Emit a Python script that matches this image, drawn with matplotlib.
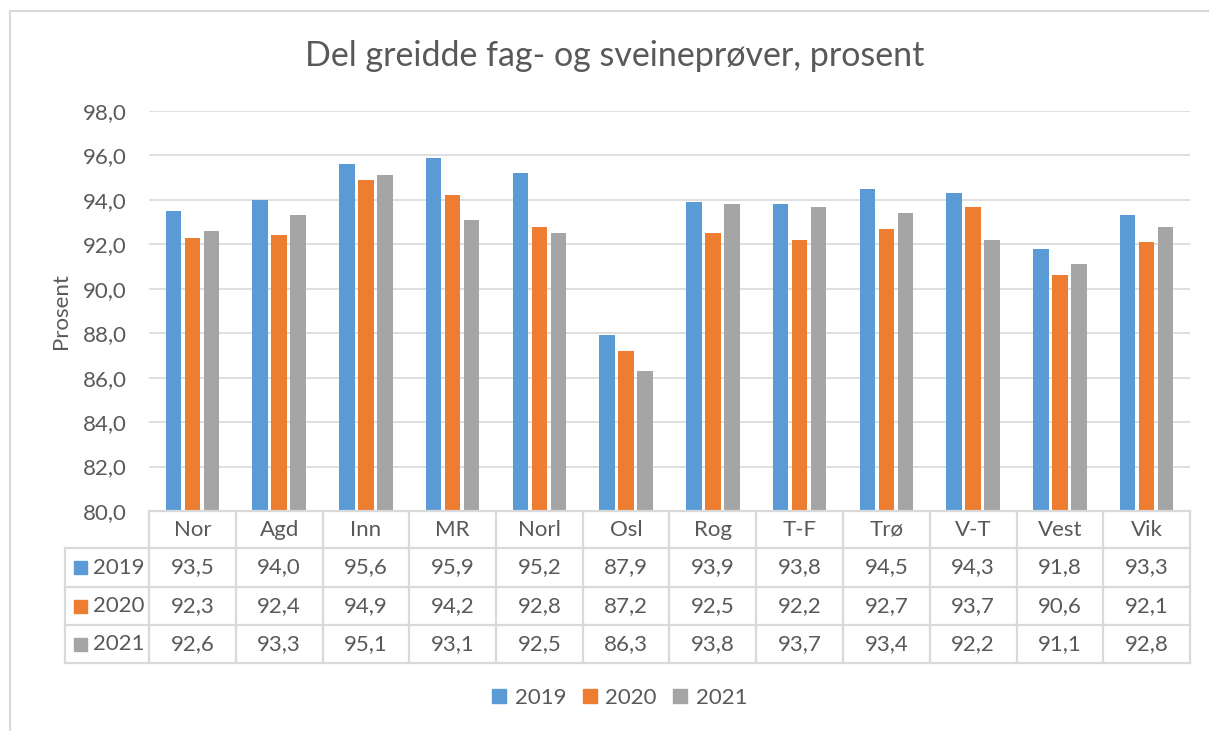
import matplotlib
matplotlib.use("Agg")
import matplotlib.pyplot as plt
from matplotlib.lines import Line2D
import numpy as np

# data
categories = ["Nor", "Agd", "Inn", "MR", "Norl", "Osl", "Rog", "T-F", "Trø", "V-T", "Vest", "Vik"]
years = ["2019", "2020", "2021"]
v2019 = [93.5, 94.0, 95.6, 95.9, 95.2, 87.9, 93.9, 93.8, 94.5, 94.3, 91.8, 93.3]
v2020 = [92.3, 92.4, 94.9, 94.2, 92.8, 87.2, 92.5, 92.2, 92.7, 93.7, 90.6, 92.1]
v2021 = [92.6, 93.3, 95.1, 93.1, 92.5, 86.3, 93.8, 93.7, 93.4, 92.2, 91.1, 92.8]
series = [v2019, v2020, v2021]
colors = ["#5B9BD5", "#ED7D31", "#A5A5A5"]

plt.rcParams["font.family"] = ["Lato", "DejaVu Sans"]
TXT = "#595959"
GRID = "#D9D9D9"
FS = 16

W, H = 1209, 731
fig = plt.figure(figsize=(W / 100, H / 100), dpi=100)


def fx(px):
    return px / W


def fy(py):
    return 1 - py / H


# plot area in pixels
left, right, top, bottom = 149, 1190, 111, 511
ax = fig.add_axes([fx(left), fy(bottom), fx(right - left), (bottom - top) / H])

x = np.arange(len(categories))
cat_px = (right - left) / len(categories)
bw = 15.5 / cat_px
step = 19 / cat_px
for i, (vals, c) in enumerate(zip(series, colors)):
    ax.bar(x + (i - 1) * step, vals, width=bw, color=c, zorder=3)

ax.set_xlim(-0.5, len(categories) - 0.5)
ax.set_ylim(80, 98)
ax.set_yticks(np.arange(80, 98.1, 2))
ax.set_yticklabels([f"{t:.1f}".replace(".", ",") for t in np.arange(80, 98.1, 2)])
ax.tick_params(axis="y", length=0, pad=16, labelsize=FS, labelcolor=TXT)
ax.set_xticks([])
ax.grid(axis="y", color=GRID, lw=1.2, zorder=0)
for s in ax.spines.values():
    s.set_visible(False)

fig.text(fx(61), fy(311), "Prosent", rotation=90, ha="center", va="center",
         fontsize=FS, color=TXT)
fig.text(fx(615), fy(56), "Del greidde fag- og sveineprøver, prosent",
         ha="center", va="center", fontsize=24.5, color=TXT)

# data table under the axis
rows_px = [511, 548, 587, 625, 663]
tab_left = 65
lw = 1.6


def hline(y, x0, x1):
    fig.add_artist(Line2D([fx(x0), fx(x1)], [fy(y), fy(y)], color=GRID, lw=lw))


def vline(xp, y0, y1):
    fig.add_artist(Line2D([fx(xp), fx(xp)], [fy(y0), fy(y1)], color=GRID, lw=lw))


hline(rows_px[0], left, right)
for y in rows_px[1:]:
    hline(y, tab_left, right)
for k in range(len(categories) + 1):
    vline(left + k * cat_px, rows_px[0], rows_px[-1])
vline(tab_left, rows_px[1], rows_px[-1])

for k, cat in enumerate(categories):
    cx = left + (k + 0.5) * cat_px
    fig.text(fx(cx), fy((rows_px[0] + rows_px[1]) / 2), cat, ha="center", va="center",
             fontsize=FS, color=TXT)
    for r, vals in enumerate(series):
        cy = (rows_px[r + 1] + rows_px[r + 2]) / 2
        fig.text(fx(cx), fy(cy), f"{vals[k]:.1f}".replace(".", ","), ha="center",
                 va="center", fontsize=FS, color=TXT)

for r, (yr, c) in enumerate(zip(years, colors)):
    cy = (rows_px[r + 1] + rows_px[r + 2]) / 2
    fig.add_artist(plt.Rectangle((fx(74), fy(cy + 6.5)), fx(13), 13 / H, color=c))
    fig.text(fx(93), fy(cy), yr, ha="left", va="center", fontsize=FS, color=TXT)

# legend (square markers like Excel)
handles = [Line2D([], [], ls="", marker="s", markersize=9.5, color=c, label=yr)
           for yr, c in zip(years, colors)]
fig.legend(handles=handles, loc="center", bbox_to_anchor=(fx(620), fy(698)), ncol=3,
           frameon=False, fontsize=FS, labelcolor=TXT, handlelength=0.6,
           handletextpad=0.4, columnspacing=0.75)

# chart frame
fig.add_artist(Line2D([fx(10), fx(10)], [fy(11), 0], color=GRID, lw=1.5))
fig.add_artist(Line2D([fx(10), 1], [fy(11), fy(11)], color=GRID, lw=1.5))

fig.savefig("out.png", dpi=100)
